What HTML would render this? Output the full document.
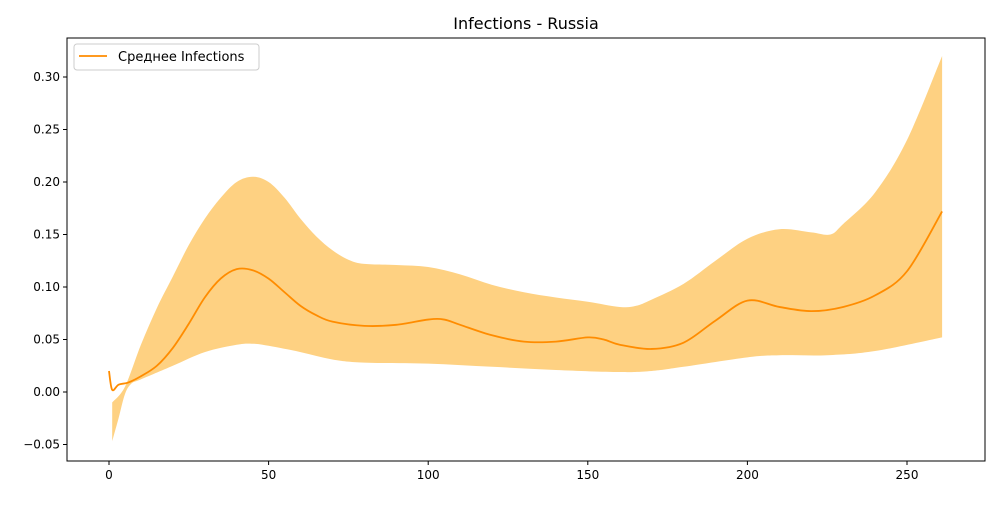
<!DOCTYPE html>
<html><head><meta charset="utf-8"><style>
body{margin:0;background:#fff;font-family:"Liberation Sans","DejaVu Sans",sans-serif}
svg text{font-family:"DejaVu Sans","Liberation Sans",sans-serif}
</style></head><body>
<svg id="chart" width="1000" height="500"></svg>
<script>
const meanX=[0,1,3,6,10,15,20,25,30,35,40,45,50,55,60,65,70,80,90,100,105,110,120,130,140,150,155,160,170,180,190,200,210,220,230,240,250,261];
const meanY=[0.02,0.002,0.007,0.009,0.015,0.025,0.042,0.065,0.09,0.108,0.117,0.116,0.108,0.095,0.082,0.073,0.067,0.063,0.064,0.069,0.069,0.064,0.054,0.048,0.048,0.052,0.05,0.045,0.041,0.047,0.068,0.087,0.081,0.077,0.081,0.092,0.115,0.172];
const upX=[1,5,10,15,20,25,30,35,40,45,50,55,60,65,70,75,80,90,100,110,120,130,140,150,160,165,170,180,190,200,210,220,226,230,240,250,261];
const upY=[-0.01,0.005,0.045,0.08,0.11,0.14,0.165,0.185,0.2,0.205,0.2,0.185,0.165,0.148,0.135,0.126,0.122,0.121,0.119,0.112,0.102,0.095,0.09,0.086,0.081,0.082,0.088,0.103,0.125,0.146,0.155,0.152,0.15,0.16,0.19,0.24,0.32];
const loX=[1,3,5,7,10,20,30,40,45,50,60,70,80,100,120,140,160,170,180,200,210,225,240,261];
const loY=[-0.047,-0.025,-0.002,0.008,0.012,0.025,0.038,0.045,0.046,0.044,0.038,0.031,0.028,0.027,0.024,0.021,0.019,0.02,0.024,0.033,0.035,0.035,0.039,0.052];
const xTicks=[0,50,100,150,200,250];
const yTicks=[-0.05,0,0.05,0.10,0.15,0.20,0.25,0.30];
const L=67,R=985,T=38,B=461;
const sx=v=>109+v*(907-109)/250;
const sy=v=>392-v*1050;
const NS="http://www.w3.org/2000/svg";
const svg=document.getElementById('chart');
function mk(t,a,p){const e=document.createElementNS(NS,t);for(const k in a)e.setAttribute(k,a[k]);(p||svg).appendChild(e);return e;}
function smooth(xs,ys,start){
  const P=xs.map((x,i)=>[sx(x),sy(ys[i])]);
  let d=(start?"M":"L")+P[0][0]+","+P[0][1];
  for(let i=0;i<P.length-1;i++){
    const p0=P[Math.max(0,i-1)],p1=P[i],p2=P[i+1],p3=P[Math.min(P.length-1,i+2)];
    const c1=[p1[0]+(p2[0]-p0[0])/6,p1[1]+(p2[1]-p0[1])/6];
    const c2=[p2[0]-(p3[0]-p1[0])/6,p2[1]-(p3[1]-p1[1])/6];
    d+="C"+c1+" "+c2+" "+p2;
  }
  return d;
}
let d=smooth(upX,upY,true)+smooth(loX.slice().reverse(),loY.slice().reverse(),false)+"Z";
const band=mk('path',{d:d,fill:"#fdb93f","fill-opacity":0.65,stroke:"none"});


const line=mk('path',{d:smooth(meanX,meanY,true),fill:"none",stroke:"#ff8c00","stroke-width":1.8,"stroke-linejoin":"round"});


const frame=mk('rect',{x:L,y:T,width:R-L,height:B-T,fill:"none",stroke:"#000","stroke-width":1});


xTicks.forEach(v=>{const x=sx(v);mk('line',{x1:x,x2:x,y1:B,y2:B+4,stroke:"#000"});
const t=mk('text',{x:x,y:B+18,"text-anchor":"middle","font-size":12});t.textContent=v;

});
yTicks.forEach(v=>{const y=sy(v);mk('line',{x1:L-4,x2:L,y1:y,y2:y,stroke:"#000"});
const t=mk('text',{x:L-7,y:y+4,"text-anchor":"end","font-size":12});t.textContent=v.toFixed(2).replace("-","−");

});
const title=mk('text',{x:526,y:29,"text-anchor":"middle","font-size":16});title.textContent="Infections - Russia";


const lg=mk('g',{});


mk('rect',{x:74,y:44,width:185,height:26,rx:3,fill:"#fff",stroke:"#ccc"},lg);
mk('line',{x1:79,x2:107,y1:56,y2:56,stroke:"#ff8c00","stroke-width":1.8},lg);
const lt=mk('text',{x:118,y:61,"font-size":13},lg);lt.textContent="Среднее Infections";


</script>
</body></html>
